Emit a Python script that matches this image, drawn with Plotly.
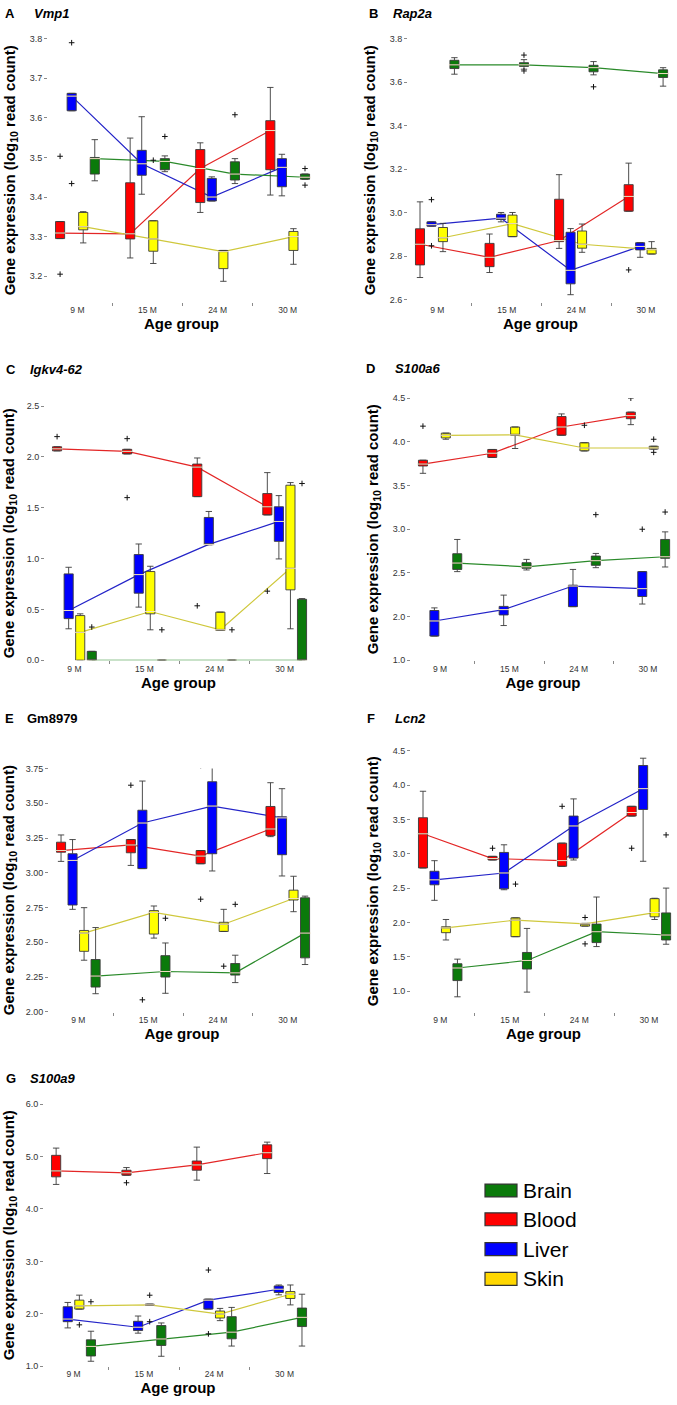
import plotly.graph_objects as go

W, H = 677, 1405
AGES = ["9 M", "15 M", "24 M", "30 M"]
TISSUES = ["Blood", "Liver", "Skin", "Brain"]          # left-to-right order inside each age group
LEGEND_ORDER = ["Brain", "Blood", "Liver", "Skin"]

# ---- data: per age group rows of [lower whisker, Q1, median, Q3, upper whisker] ----
VMP1 = {
    "Brain": [[3.441, 3.458, 3.497, 3.500, 3.545], [3.464, 3.469, 3.490, 3.497, 3.504],
              [3.434, 3.443, 3.458, 3.489, 3.497], [3.445, 3.445, 3.450, 3.458, 3.458]],
    "Blood": [[3.295, 3.295, 3.309, 3.338, 3.338], [3.246, 3.294, 3.307, 3.436, 3.549],
              [3.361, 3.386, 3.472, 3.520, 3.537], [3.405, 3.469, 3.568, 3.593, 3.677]],
    "Liver": [[3.618, 3.618, 3.655, 3.662, 3.662], [3.407, 3.455, 3.484, 3.518, 3.603],
              [3.390, 3.390, 3.400, 3.447, 3.451], [3.403, 3.426, 3.475, 3.497, 3.508]],
    "Skin":  [[3.284, 3.317, 3.325, 3.361, 3.363], [3.232, 3.263, 3.294, 3.340, 3.340],
              [3.187, 3.219, 3.262, 3.265, 3.265], [3.230, 3.265, 3.300, 3.313, 3.320]],
}
VMP1_OUT = {"Brain": [[], [3.553], [3.608], [3.472, 3.430]],
            "Blood": [[3.503, 3.205], [], [], []],
            "Liver": [[3.790, 3.434], [], [], []],
            "Skin":  [[], [3.493], [], []]}

RAP2A = {
    "Brain": [[3.637, 3.663, 3.680, 3.701, 3.713], [3.660, 3.673, 3.680, 3.690, 3.704],
              [3.634, 3.648, 3.667, 3.678, 3.695], [3.582, 3.622, 3.640, 3.657, 3.667]],
    "Blood": [[2.702, 2.760, 2.855, 2.926, 3.050], [2.725, 2.752, 2.795, 2.859, 2.902],
              [2.836, 2.867, 2.872, 3.062, 3.175], [3.007, 3.007, 3.075, 3.129, 3.228]],
    "Liver": [[2.938, 2.938, 2.945, 2.958, 2.958], [2.958, 2.969, 2.975, 2.993, 3.001],
              [2.623, 2.673, 2.735, 2.910, 2.927], [2.795, 2.829, 2.845, 2.862, 2.862]],
    "Skin":  [[2.821, 2.867, 2.885, 2.932, 2.951], [2.890, 2.890, 2.950, 2.989, 3.001],
              [2.818, 2.837, 2.855, 2.916, 2.948], [2.810, 2.810, 2.830, 2.836, 2.867]],
}
RAP2A_OUT = {"Brain": [[], [3.725, 3.652], [3.579], []],
             "Blood": [[], [], [], [2.737]],
             "Liver": [[3.060, 2.848], [], [], []],
             "Skin":  [[], [], [], []]}

IGKV4_62 = {
    "Brain": [[0.0, 0.0, 0.0, 0.088, 0.088], [0.0, 0.0, 0.0, 0.0, 0.0],
              [0.0, 0.0, 0.0, 0.0, 0.0], [0.0, 0.0, 0.0, 0.600, 0.607]],
    "Blood": [[2.06, 2.06, 2.08, 2.10, 2.10], [2.03, 2.03, 2.055, 2.075, 2.075],
              [1.61, 1.61, 1.90, 1.93, 1.99], [1.43, 1.43, 1.51, 1.64, 1.846]],
    "Liver": [[0.31, 0.41, 0.49, 0.85, 0.915], [0.523, 0.66, 0.843, 1.04, 1.144],
              [1.137, 1.137, 1.14, 1.405, 1.464], [0.997, 1.17, 1.366, 1.51, 1.62]],
    "Skin":  [[0.0, 0.0, 0.275, 0.44, 0.457], [0.30, 0.457, 0.48, 0.873, 0.925],
              [0.294, 0.294, 0.30, 0.474, 0.474], [0.31, 0.693, 0.905, 1.722, 1.748]],
}
IGKV4_62_OUT = {"Brain": [[0.327], [0.30], [0.30], [1.739]],
                "Blood": [[2.20], [2.18, 1.60], [0.536], [0.68]],
                "Liver": [[], [], [], []],
                "Skin":  [[], [], [], []]}

S100A6 = {
    "Brain": [[2.515, 2.54, 2.613, 2.72, 2.883], [2.534, 2.553, 2.57, 2.617, 2.655],
              [2.56, 2.587, 2.64, 2.693, 2.723], [2.568, 2.667, 2.685, 2.883, 2.97]],
    "Blood": [[3.64, 3.724, 3.746, 3.79, 3.79], [3.822, 3.822, 3.87, 3.913, 3.913],
              [4.076, 4.076, 4.17, 4.29, 4.32], [4.197, 4.265, 4.30, 4.34, 4.34]],
    "Liver": [[1.777, 1.777, 1.95, 2.07, 2.10], [1.898, 2.019, 2.08, 2.117, 2.246],
              [2.114, 2.114, 2.35, 2.36, 2.54], [2.144, 2.23, 2.32, 2.515, 2.515]],
    "Skin":  [[4.03, 4.045, 4.075, 4.10, 4.10], [3.924, 4.075, 4.08, 4.17, 4.17],
              [3.895, 3.898, 3.93, 3.99, 3.99], [3.917, 3.917, 3.93, 3.95, 3.95]],
}
S100A6_OUT = {"Brain": [[], [], [3.167], [3.197]],
              "Blood": [[4.18], [], [], [4.50]],
              "Liver": [[], [], [], [3.0]],
              "Skin":  [[], [], [4.19], [4.03, 3.88]]}

GM8979 = {
    "Brain": [[2.13, 2.178, 2.257, 2.376, 2.606], [2.133, 2.25, 2.29, 2.404, 2.495],
              [2.21, 2.264, 2.28, 2.347, 2.407], [2.34, 2.388, 2.566, 2.82, 2.832]],
    "Blood": [[3.082, 3.148, 3.16, 3.22, 3.272], [3.053, 3.144, 3.20, 3.239, 3.239],
              [3.065, 3.065, 3.12, 3.16, 3.16], [3.26, 3.267, 3.315, 3.477, 3.648]],
    "Liver": [[2.737, 2.768, 3.089, 3.137, 3.239], [3.03, 3.03, 3.358, 3.45, 3.66],
              [3.013, 3.137, 3.48, 3.655, 3.798], [2.977, 3.13, 3.395, 3.403, 3.605]],
    "Skin":  [[2.371, 2.435, 2.566, 2.585, 2.749], [2.53, 2.559, 2.715, 2.728, 2.761],
              [2.578, 2.578, 2.63, 2.644, 2.737], [2.72, 2.804, 2.815, 2.875, 2.975]],
}
GM8979_OUT = {"Brain": [[], [2.673], [2.773], []],
              "Blood": [[], [3.63], [3.77, 2.81], []],
              "Liver": [[], [2.086], [], []],
              "Skin":  [[], [], [2.328], []]}

LCN2 = {
    "Brain": [[0.918, 1.154, 1.337, 1.399, 1.466], [0.986, 1.322, 1.447, 1.563, 1.913],
              [1.649, 1.707, 1.865, 1.976, 2.37], [1.683, 1.745, 1.817, 2.139, 2.50]],
    "Blood": [[2.793, 2.793, 3.29, 3.524, 3.909], [2.909, 2.909, 2.93, 2.962, 2.962],
              [2.817, 2.817, 2.90, 3.154, 3.154], [3.548, 3.548, 3.60, 3.69, 3.69]],
    "Liver": [[2.322, 2.548, 2.62, 2.745, 2.899], [2.476, 2.49, 2.72, 3.019, 3.13],
              [2.909, 2.937, 3.404, 3.548, 3.798], [2.89, 3.644, 3.947, 4.284, 4.39]],
    "Skin":  [[1.745, 1.851, 1.92, 1.937, 2.043], [1.793, 1.793, 2.034, 2.067, 2.067],
              [1.947, 1.947, 1.98, 1.986, 1.986], [2.043, 2.082, 2.144, 2.346, 2.352]],
}
LCN2_OUT = {"Brain": [[], [], [], [3.274]],
            "Blood": [[], [3.08], [3.69], [3.08]],
            "Liver": [[], [], [], []],
            "Skin":  [[], [2.558], [2.072, 1.688], []]}

S100A9 = {
    "Brain": [[1.095, 1.196, 1.378, 1.504, 1.668], [1.19, 1.397, 1.52, 1.776, 1.826],
              [1.385, 1.523, 1.65, 1.946, 2.122], [1.385, 1.757, 1.933, 2.11, 2.374]],
    "Blood": [[4.468, 4.613, 4.726, 5.023, 5.161], [4.644, 4.644, 4.69, 4.739, 4.79],
              [4.55, 4.739, 4.84, 4.915, 5.18], [4.676, 4.96, 5.073, 5.224, 5.275]],
    "Liver": [[1.731, 1.85, 1.90, 2.135, 2.217], [1.631, 1.681, 1.744, 1.857, 1.958],
              [2.09, 2.09, 2.26, 2.28, 2.28], [2.362, 2.406, 2.469, 2.532, 2.55]],
    "Skin":  [[2.09, 2.09, 2.15, 2.261, 2.356], [2.166, 2.166, 2.17, 2.185, 2.185],
              [1.87, 1.92, 1.996, 2.053, 2.103], [2.17, 2.293, 2.374, 2.425, 2.55]],
}
S100A9_OUT = {"Brain": [[2.23], [], [], []],
              "Blood": [[], [4.50], [], []],
              "Liver": [[], [], [2.835, 1.618], []],
              "Skin":  [[1.79], [1.85, 2.355], [], []]}

# ---- styling ----
FILL = {"Brain": "#0b7a0b", "Blood": "#ff0000", "Liver": "#0000ff", "Skin": "#ffff00"}
LEGEND_FILL = {"Brain": "#0b7a0b", "Blood": "#ff0000", "Liver": "#0000ff", "Skin": "#ffd700"}
LINE = {"Brain": "#2a8a2a", "Blood": "#e32626", "Liver": "#2424c8", "Skin": "#cfc83c"}
OFFSET = {"Blood": -0.2475, "Liver": -0.0825, "Skin": 0.0825, "Brain": 0.2475}
BOXW = 0.13
FONT = "Arial, Liberation Sans, sans-serif"
XTITLE = "<b>Age group</b>"
YTITLE = "<b>Gene expression (log<sub>10</sub> read count)</b>"


def frange(a, b, s):
    out, v = [], a
    while v <= b + 1e-9:
        out.append(round(v, 4))
        v += s
    return out


PANELS = [
    dict(letter="A", gene="Vmp1", italic=True, stats=VMP1, out=VMP1_OUT, px=(48, 34, 315, 299),
         yr=[3.135, 3.8], tv=frange(3.2, 3.8, 0.1), fmt="{:.1f}", lx=3, gx=32, ty=9),
    dict(letter="B", gene="Rap2a", italic=True, stats=RAP2A, out=RAP2A_OUT, px=(408, 34, 673, 299),
         yr=[2.59, 3.8], tv=frange(2.6, 3.8, 0.2), fmt="{:.1f}", lx=367, gx=391, ty=9),
    dict(letter="C", gene="Igkv4-62", italic=True, stats=IGKV4_62, out=IGKV4_62_OUT, px=(45, 404, 312, 660),
         yr=[0.0, 2.5], tv=frange(0.0, 2.5, 0.5), fmt="{:.1f}", lx=4, gx=28, ty=367),
    dict(letter="D", gene="S100a6", italic=True, stats=S100A6, out=S100A6_OUT, px=(411, 396, 675, 660),
         yr=[1.5, 4.5], tv=frange(1.5, 4.5, 0.5), fmt="{:.1f}", lx=364, gx=393, ty=366,
         ttext=["1.0", "2.0", "2.5", "3.0", "3.5", "4.0", "4.5"]),
    dict(letter="E", gene="Gm8979", italic=False, stats=GM8979, out=GM8979_OUT, px=(49, 769, 315, 1014),
         yr=[2.0, 3.75], tv=frange(2.0, 3.75, 0.25), fmt="{:.2f}", lx=3, gx=25, ty=719),
    dict(letter="F", gene="Lcn2", italic=True, stats=LCN2, out=LCN2_OUT, px=(411, 751, 676, 1014),
         yr=[0.70, 4.5], tv=frange(1.0, 4.5, 0.5), fmt="{:.1f}", lx=365, gx=393, ty=719),
    dict(letter="G", gene="S100a9", italic=True, stats=S100A9, out=S100A9_OUT, px=(44, 1107, 312, 1371),
         yr=[1.0, 6.0], tv=frange(1.0, 6.0, 1.0), fmt="{:.1f}", lx=4, gx=28, ty=1081),
]

fig = go.Figure()
annotations = []
shapes = []
layout_axes = {}

for k, p in enumerate(PANELS, start=1):
    xs_name = "x" if k == 1 else f"x{k}"
    ys_name = "y" if k == 1 else f"y{k}"
    stats, outs = p["stats"], p["out"]

    # median-connecting lines (below the boxes)
    for t in TISSUES:
        xs = [i + OFFSET[t] for i in range(len(AGES))]
        fig.add_trace(go.Scatter(x=xs, y=[r[2] for r in stats[t]], mode="lines",
                                 line=dict(color=LINE[t], width=1.2), xaxis=xs_name, yaxis=ys_name,
                                 showlegend=False, hoverinfo="skip", zorder=0))
    # boxes
    for t in TISSUES:
        xs = [i + OFFSET[t] for i in range(len(AGES))]
        rows = stats[t]
        fig.add_trace(go.Box(x=xs, lowerfence=[r[0] for r in rows], q1=[r[1] for r in rows],
                             median=[r[2] for r in rows], q3=[r[3] for r in rows],
                             upperfence=[r[4] for r in rows], width=BOXW, whiskerwidth=0.7,
                             fillcolor=FILL[t], line=dict(color="#3a3a3a", width=0.9),
                             boxpoints=False, xaxis=xs_name, yaxis=ys_name, showlegend=False,
                             name=t, zorder=1))
        # light median strokes
        fig.add_trace(go.Scatter(x=xs, y=[r[2] for r in rows], mode="markers",
                                 marker=dict(symbol="line-ew", size=8, color="#f2e2c4",
                                             line=dict(color="#f2e2c4", width=1)),
                                 xaxis=xs_name, yaxis=ys_name, showlegend=False, hoverinfo="skip", zorder=2))
        # outliers
        ox, oy = [], []
        for i, vals in enumerate(outs[t]):
            for v in vals:
                ox.append(i + OFFSET[t])
                oy.append(v)
        if ox:
            fig.add_trace(go.Scatter(x=ox, y=oy, mode="markers",
                                     marker=dict(symbol="cross-thin", size=4, color="#111",
                                                 line=dict(color="#111", width=1)),
                                     xaxis=xs_name, yaxis=ys_name, showlegend=False, zorder=3))

    x0, yt, x1, yb = p["px"]
    xkey = "xaxis" if k == 1 else f"xaxis{k}"
    ykey = "yaxis" if k == 1 else f"yaxis{k}"
    layout_axes[xkey] = dict(
        domain=[x0 / W, x1 / W], range=[-0.42, 3.39], anchor=ys_name,
        tickmode="array", tickvals=list(range(len(AGES))), ticktext=AGES,
        ticks="outside", ticklen=0, showline=True, linecolor="#8a8a8a", linewidth=1,
        showgrid=False, zeroline=False, tickfont=dict(family=FONT, size=8.5, color="#333"),
        minor=dict(tickmode="array", tickvals=[0.5, 1.5, 2.5], ticks="outside", ticklen=3,
                   tickcolor="#8a8a8a", showgrid=False),
        title=dict(text=XTITLE, font=dict(family=FONT, size=15, color="#000"), standoff=4),
    )
    ttext = p.get("ttext", [p["fmt"].format(v) for v in p["tv"]])
    layout_axes[ykey] = dict(
        domain=[1 - yb / H, 1 - yt / H], range=p["yr"], anchor=xs_name,
        tickmode="array", tickvals=p["tv"], ticktext=ttext,
        ticks="outside", ticklen=3, tickcolor="#8a8a8a", showline=True, linecolor="#8a8a8a",
        linewidth=1, showgrid=False, zeroline=False, tickfont=dict(family=FONT, size=9, color="#333"),
        title=dict(text=YTITLE, font=dict(family=FONT, size=15, color="#000"), standoff=10),
    )

    # panel letter and gene name
    annotations.append(dict(text=f"<b>{p['letter']}</b>", x=p["lx"] / W, y=1 - p["ty"] / H,
                            xref="paper", yref="paper", xanchor="left", yanchor="middle",
                            showarrow=False, font=dict(family=FONT, size=13, color="#000")))
    gtxt = f"<b><i>{p['gene']}</i></b>" if p["italic"] else f"<b>{p['gene']}</b>"
    annotations.append(dict(text=gtxt, x=p["gx"] / W, y=1 - p["ty"] / H,
                            xref="paper", yref="paper", xanchor="left", yanchor="middle",
                            showarrow=False, font=dict(family=FONT, size=13, color="#000")))

# legend drawn with swatches + text
LEG_Y = [1194, 1223, 1253, 1283]
for t, yc in zip(LEGEND_ORDER, LEG_Y):
    shapes.append(dict(type="rect", xref="paper", yref="paper",
                       x0=485 / W, x1=517 / W, y0=1 - (yc + 6.5) / H, y1=1 - (yc - 6.5) / H,
                       fillcolor=LEGEND_FILL[t], line=dict(color="#333", width=1.2)))
    annotations.append(dict(text=t, x=521 / W, y=1 - yc / H, xref="paper", yref="paper",
                            xanchor="left", yanchor="middle", showarrow=False,
                            font=dict(family=FONT, size=21, color="#000")))

fig.update_layout(
    width=W, height=H, margin=dict(l=0, r=0, t=0, b=0),
    paper_bgcolor="white", plot_bgcolor="white", showlegend=False,
    annotations=annotations, shapes=shapes, **layout_axes,
)

fig.write_html(
    "out.html",
    config={"displayModeBar": False, "staticPlot": True},
    post_script=("document.body.style.margin='0px';"
                 "document.documentElement.style.overflow='hidden';"
                 "document.body.style.overflow='hidden';"),
)
